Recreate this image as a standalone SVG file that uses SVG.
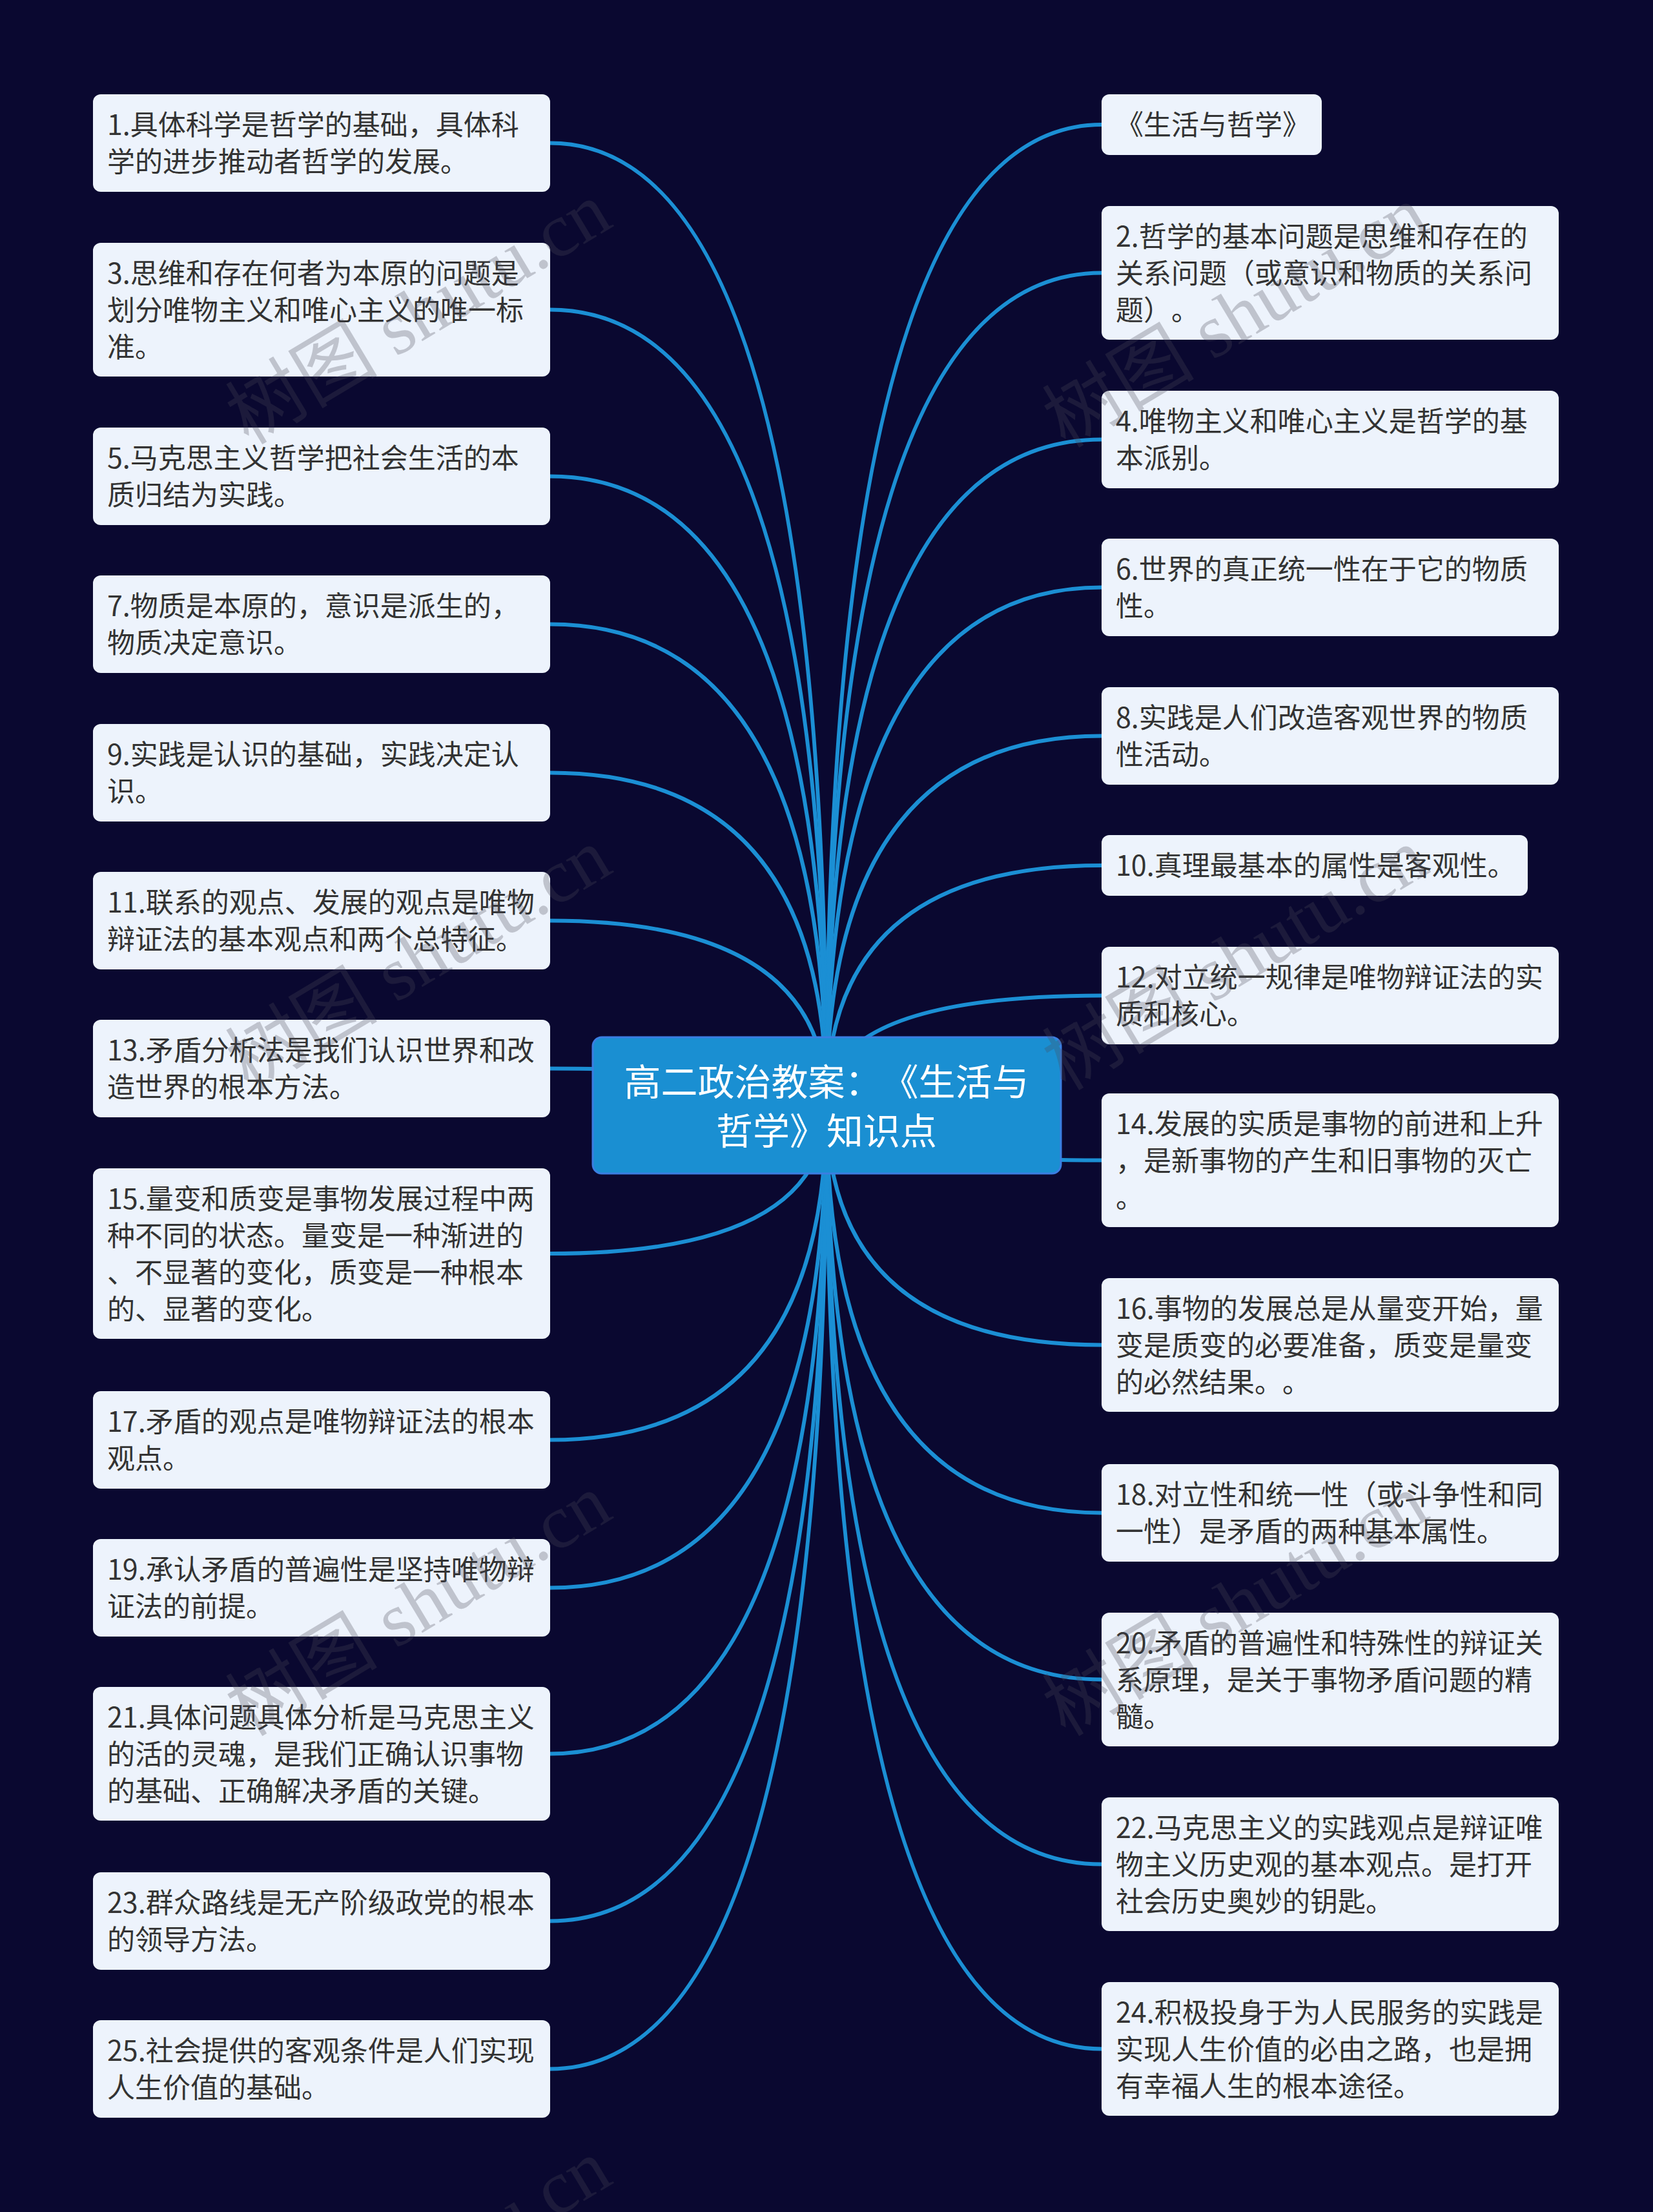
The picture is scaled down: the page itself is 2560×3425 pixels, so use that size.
<svg xmlns="http://www.w3.org/2000/svg" width="2560" height="3425" viewBox="0 0 2560 3425">
<style>
.bg{fill:#0a0830}
.edge{fill:none;stroke:#1b8fd4;stroke-width:6;stroke-linecap:round}
.box{fill:#edf3fc}
.t{font-family:"Noto Sans CJK SC","Noto Sans",sans-serif;font-size:43px;fill:#333333;text-spacing-trim:space-all}
.root{fill:#1a8fd2;stroke:#3b7ee2;stroke-width:3}
.rt{font-family:"Noto Sans CJK SC","Noto Sans",sans-serif;font-size:57px;fill:#ffffff;text-anchor:middle;text-spacing-trim:space-all}
.wm{font-family:"Liberation Serif","Noto Sans CJK SC",serif;font-size:118px;fill:#4a4a58;opacity:0.28}
</style>
<rect class="bg" x="0" y="0" width="2560" height="3425"/>
<g id="connectors">
<path class="edge" d="M1280,1711 Q1280,221.5 852,221.5"/>
<path class="edge" d="M1280,1711 Q1280,479.5 852,479.5"/>
<path class="edge" d="M1280,1711 Q1280,737.5 852,737.5"/>
<path class="edge" d="M1280,1711 Q1280,966.5 852,966.5"/>
<path class="edge" d="M1280,1711 Q1280,1196.5 852,1196.5"/>
<path class="edge" d="M1280,1711 Q1280,1425.5 852,1425.5"/>
<path class="edge" d="M1280,1711 Q1280,1654.5 852,1654.5"/>
<path class="edge" d="M1280,1711 Q1280,1941 852,1941"/>
<path class="edge" d="M1280,1711 Q1280,2229.5 852,2229.5"/>
<path class="edge" d="M1280,1711 Q1280,2458.5 852,2458.5"/>
<path class="edge" d="M1280,1711 Q1280,2715.5 852,2715.5"/>
<path class="edge" d="M1280,1711 Q1280,2974.5 852,2974.5"/>
<path class="edge" d="M1280,1711 Q1280,3203.5 852,3203.5"/>
<path class="edge" d="M1280,1711 Q1280,193 1706,193"/>
<path class="edge" d="M1280,1711 Q1280,422.5 1706,422.5"/>
<path class="edge" d="M1280,1711 Q1280,680.5 1706,680.5"/>
<path class="edge" d="M1280,1711 Q1280,909.5 1706,909.5"/>
<path class="edge" d="M1280,1711 Q1280,1139.5 1706,1139.5"/>
<path class="edge" d="M1280,1711 Q1280,1340 1706,1340"/>
<path class="edge" d="M1280,1711 Q1280,1541.5 1706,1541.5"/>
<path class="edge" d="M1280,1711 Q1280,1796.5 1706,1796.5"/>
<path class="edge" d="M1280,1711 Q1280,2082.5 1706,2082.5"/>
<path class="edge" d="M1280,1711 Q1280,2342.5 1706,2342.5"/>
<path class="edge" d="M1280,1711 Q1280,2600.5 1706,2600.5"/>
<path class="edge" d="M1280,1711 Q1280,2886.5 1706,2886.5"/>
<path class="edge" d="M1280,1711 Q1280,3172.5 1706,3172.5"/>
</g>
<g id="root">
<rect class="root" x="918" y="1606" width="725" height="211" rx="14"/>
<text class="rt" x="1280" y="1696">高二政治教案：《生活与</text>
<text class="rt" x="1280" y="1772">哲学》知识点</text>
</g>
<g id="n1"><rect class="box" x="144" y="146" width="708" height="151" rx="12"/>
<text class="t" x="166" y="209">1.具体科学是哲学的基础，具体科</text>
<text class="t" x="166" y="266">学的进步推动者哲学的发展。</text></g>
<g id="n3"><rect class="box" x="144" y="376" width="708" height="207" rx="12"/>
<text class="t" x="166" y="439">3.思维和存在何者为本原的问题是</text>
<text class="t" x="166" y="496">划分唯物主义和唯心主义的唯一标</text>
<text class="t" x="166" y="553">准。</text></g>
<g id="n5"><rect class="box" x="144" y="662" width="708" height="151" rx="12"/>
<text class="t" x="166" y="725">5.马克思主义哲学把社会生活的本</text>
<text class="t" x="166" y="782">质归结为实践。</text></g>
<g id="n7"><rect class="box" x="144" y="891" width="708" height="151" rx="12"/>
<text class="t" x="166" y="954">7.物质是本原的，意识是派生的，</text>
<text class="t" x="166" y="1011">物质决定意识。</text></g>
<g id="n9"><rect class="box" x="144" y="1121" width="708" height="151" rx="12"/>
<text class="t" x="166" y="1184">9.实践是认识的基础，实践决定认</text>
<text class="t" x="166" y="1241">识。</text></g>
<g id="n11"><rect class="box" x="144" y="1350" width="708" height="151" rx="12"/>
<text class="t" x="166" y="1413">11.联系的观点、发展的观点是唯物</text>
<text class="t" x="166" y="1470">辩证法的基本观点和两个总特征。</text></g>
<g id="n13"><rect class="box" x="144" y="1579" width="708" height="151" rx="12"/>
<text class="t" x="166" y="1642">13.矛盾分析法是我们认识世界和改</text>
<text class="t" x="166" y="1699">造世界的根本方法。</text></g>
<g id="n15"><rect class="box" x="144" y="1809" width="708" height="264" rx="12"/>
<text class="t" x="166" y="1872">15.量变和质变是事物发展过程中两</text>
<text class="t" x="166" y="1929">种不同的状态。量变是一种渐进的</text>
<text class="t" x="166" y="1986">、不显著的变化，质变是一种根本</text>
<text class="t" x="166" y="2043">的、显著的变化。</text></g>
<g id="n17"><rect class="box" x="144" y="2154" width="708" height="151" rx="12"/>
<text class="t" x="166" y="2217">17.矛盾的观点是唯物辩证法的根本</text>
<text class="t" x="166" y="2274">观点。</text></g>
<g id="n19"><rect class="box" x="144" y="2383" width="708" height="151" rx="12"/>
<text class="t" x="166" y="2446">19.承认矛盾的普遍性是坚持唯物辩</text>
<text class="t" x="166" y="2503">证法的前提。</text></g>
<g id="n21"><rect class="box" x="144" y="2612" width="708" height="207" rx="12"/>
<text class="t" x="166" y="2675">21.具体问题具体分析是马克思主义</text>
<text class="t" x="166" y="2732">的活的灵魂，是我们正确认识事物</text>
<text class="t" x="166" y="2789">的基础、正确解决矛盾的关键。</text></g>
<g id="n23"><rect class="box" x="144" y="2899" width="708" height="151" rx="12"/>
<text class="t" x="166" y="2962">23.群众路线是无产阶级政党的根本</text>
<text class="t" x="166" y="3019">的领导方法。</text></g>
<g id="n25"><rect class="box" x="144" y="3128" width="708" height="151" rx="12"/>
<text class="t" x="166" y="3191">25.社会提供的客观条件是人们实现</text>
<text class="t" x="166" y="3248">人生价值的基础。</text></g>
<g id="n0"><rect class="box" x="1706" y="146" width="341" height="94" rx="12"/>
<text class="t" x="1728" y="209">《生活与哲学》</text></g>
<g id="n2"><rect class="box" x="1706" y="319" width="708" height="207" rx="12"/>
<text class="t" x="1728" y="382">2.哲学的基本问题是思维和存在的</text>
<text class="t" x="1728" y="439">关系问题（或意识和物质的关系问</text>
<text class="t" x="1728" y="496">题）。</text></g>
<g id="n4"><rect class="box" x="1706" y="605" width="708" height="151" rx="12"/>
<text class="t" x="1728" y="668">4.唯物主义和唯心主义是哲学的基</text>
<text class="t" x="1728" y="725">本派别。</text></g>
<g id="n6"><rect class="box" x="1706" y="834" width="708" height="151" rx="12"/>
<text class="t" x="1728" y="897">6.世界的真正统一性在于它的物质</text>
<text class="t" x="1728" y="954">性。</text></g>
<g id="n8"><rect class="box" x="1706" y="1064" width="708" height="151" rx="12"/>
<text class="t" x="1728" y="1127">8.实践是人们改造客观世界的物质</text>
<text class="t" x="1728" y="1184">性活动。</text></g>
<g id="n10"><rect class="box" x="1706" y="1293" width="660" height="94" rx="12"/>
<text class="t" x="1728" y="1356">10.真理最基本的属性是客观性。</text></g>
<g id="n12"><rect class="box" x="1706" y="1466" width="708" height="151" rx="12"/>
<text class="t" x="1728" y="1529">12.对立统一规律是唯物辩证法的实</text>
<text class="t" x="1728" y="1586">质和核心。</text></g>
<g id="n14"><rect class="box" x="1706" y="1693" width="708" height="207" rx="12"/>
<text class="t" x="1728" y="1756">14.发展的实质是事物的前进和上升</text>
<text class="t" x="1728" y="1813">，是新事物的产生和旧事物的灭亡</text>
<text class="t" x="1728" y="1870">。</text></g>
<g id="n16"><rect class="box" x="1706" y="1979" width="708" height="207" rx="12"/>
<text class="t" x="1728" y="2042">16.事物的发展总是从量变开始，量</text>
<text class="t" x="1728" y="2099">变是质变的必要准备，质变是量变</text>
<text class="t" x="1728" y="2156">的必然结果。。</text></g>
<g id="n18"><rect class="box" x="1706" y="2267" width="708" height="151" rx="12"/>
<text class="t" x="1728" y="2330">18.对立性和统一性（或斗争性和同</text>
<text class="t" x="1728" y="2387">一性）是矛盾的两种基本属性。</text></g>
<g id="n20"><rect class="box" x="1706" y="2497" width="708" height="207" rx="12"/>
<text class="t" x="1728" y="2560">20.矛盾的普遍性和特殊性的辩证关</text>
<text class="t" x="1728" y="2617">系原理，是关于事物矛盾问题的精</text>
<text class="t" x="1728" y="2674">髓。</text></g>
<g id="n22"><rect class="box" x="1706" y="2783" width="708" height="207" rx="12"/>
<text class="t" x="1728" y="2846">22.马克思主义的实践观点是辩证唯</text>
<text class="t" x="1728" y="2903">物主义历史观的基本观点。是打开</text>
<text class="t" x="1728" y="2960">社会历史奥妙的钥匙。</text></g>
<g id="n24"><rect class="box" x="1706" y="3069" width="708" height="207" rx="12"/>
<text class="t" x="1728" y="3132">24.积极投身于为人民服务的实践是</text>
<text class="t" x="1728" y="3189">实现人生价值的必由之路，也是拥</text>
<text class="t" x="1728" y="3246">有幸福人生的根本途径。</text></g>
<g id="watermarks">
<text class="wm" x="385" y="690" transform="rotate(-31 385 690)">树图 shutu.cn</text>
<text class="wm" x="385" y="1690" transform="rotate(-31 385 1690)">树图 shutu.cn</text>
<text class="wm" x="385" y="2690" transform="rotate(-31 385 2690)">树图 shutu.cn</text>
<text class="wm" x="385" y="3720" transform="rotate(-31 385 3720)">树图 shutu.cn</text>
<text class="wm" x="1650" y="695" transform="rotate(-31 1650 695)">树图 shutu.cn</text>
<text class="wm" x="1650" y="1690" transform="rotate(-31 1650 1690)">树图 shutu.cn</text>
<text class="wm" x="1650" y="2690" transform="rotate(-31 1650 2690)">树图 shutu.cn</text>
</g>
</svg>
